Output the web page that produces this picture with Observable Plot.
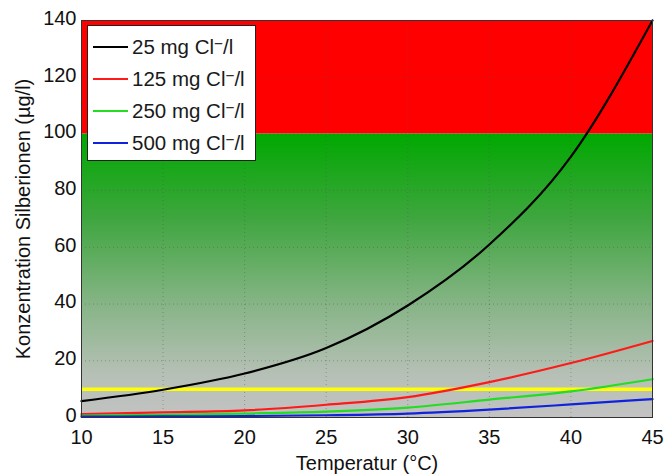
<!DOCTYPE html>
<html><head><meta charset="utf-8">
<script src="https://cdn.jsdelivr.net/npm/d3@7"></script>
<script src="https://cdn.jsdelivr.net/npm/@observablehq/plot@0.6"></script>
<style>
body{margin:0;background:#fff;font-family:"Liberation Sans",Arial,sans-serif;}
#wrap{position:relative;width:666px;height:475px;}
#legend{position:absolute;left:87px;top:25px;width:169px;height:136px;background:#fff;border:1px solid #222;box-sizing:border-box;padding-top:5px;}
.item{display:flex;align-items:center;height:32px;font-size:20.5px;color:#1a1a1a;white-space:nowrap;}
.item svg{margin-left:5px;margin-right:4px;flex:none;}
.item sup{font-size:0.75em;vertical-align:0.35em;line-height:0;}
</style></head><body>
<div id="wrap"><div id="chart"></div><div id="legend"></div></div>
<script>
const temps = [10, 15, 20, 25, 30, 35, 40, 45];
const cl25  = [5.8, 9.8, 15.5, 24.5, 39.5, 61, 92, 140];
const cl125 = [1.2, 1.8, 2.5, 4.5, 7.2, 12.5, 19.2, 27];
const cl250 = [0.7, 0.9, 1.4, 2.1, 3.5, 6.3, 9.2, 13.5];
const cl500 = [0.3, 0.4, 0.5, 0.8, 1.4, 2.8, 4.6, 6.5];
const seriesNames = ["25 mg Cl\u207B/l", "125 mg Cl\u207B/l", "250 mg Cl\u207B/l", "500 mg Cl\u207B/l"];
const seriesColors = ["#000000", "#ff1a1a", "#22dd22", "#1122dd"];
const seriesValues = [cl25, cl125, cl250, cl500];
const limitLow = 10;   // yellow line
const limitHigh = 100; // red zone lower bound
const xTicks = [10, 15, 20, 25, 30, 35, 40, 45];
const yTicks = [0, 20, 40, 60, 80, 100, 120, 140];

const rows = [];
seriesValues.forEach((vals, i) => temps.forEach((t, j) => rows.push({t, v: vals[j], s: seriesNames[i]})));

const defsMark = () => {
  const defs = d3.create("svg:defs");
  const g = defs.append("linearGradient").attr("id", "bgGrad").attr("x1", 0).attr("y1", 0).attr("x2", 0).attr("y2", 1);
  g.append("stop").attr("offset", "0%").attr("stop-color", "#00a800");
  g.append("stop").attr("offset", "30%").attr("stop-color", "#3fa63f");
  g.append("stop").attr("offset", "60%").attr("stop-color", "#86b486");
  g.append("stop").attr("offset", "85%").attr("stop-color", "#b6c0b6");
  g.append("stop").attr("offset", "100%").attr("stop-color", "#c2c2c2");
  return defs.node();
};

const chart = Plot.plot({
  width: 666, height: 475,
  marginLeft: 81, marginRight: 14, marginTop: 20, marginBottom: 58,
  style: {fontFamily: "Liberation Sans, Arial, sans-serif", fontSize: "20px", color: "#111", background: "#fff"},
  x: {domain: [10, 45], ticks: xTicks},
  y: {domain: [0, 140], ticks: yTicks},
  color: {domain: seriesNames, range: seriesColors},
  marks: [
    defsMark,
    Plot.rect([{}], {x1: xTicks[0], x2: xTicks[xTicks.length - 1], y1: 0, y2: limitHigh, fill: "url(#bgGrad)"}),
    Plot.rect([{}], {x1: xTicks[0], x2: xTicks[xTicks.length - 1], y1: limitHigh, y2: yTicks[yTicks.length - 1], fill: "#ff0000"}),
    Plot.gridX(xTicks, {stroke: "#555", strokeOpacity: 0.45, strokeDasharray: "1,3"}),
    Plot.gridY(yTicks, {stroke: "#555", strokeOpacity: 0.45, strokeDasharray: "1,3"}),
    Plot.ruleY([limitLow], {stroke: "#ffff00", strokeWidth: 3.5}),
    Plot.line(rows, {x: "t", y: "v", z: "s", stroke: "s", strokeWidth: 2.2, curve: "monotone-x"}),
    Plot.frame({stroke: "#333"}),
    Plot.axisX(xTicks, {tickSize: 0, tickPadding: 12, label: "Temperatur (°C)", labelAnchor: "center", labelArrow: "none", labelOffset: 52, fontSize: 20}),
    Plot.axisY(yTicks, {tickSize: 0, tickPadding: 5, dy: -2, label: "Konzentration Silberionen (µg/l)", labelAnchor: "center", labelArrow: "none", labelOffset: 66, fontSize: 20})
  ]
});
document.getElementById("chart").appendChild(chart);

const legend = document.getElementById("legend");
seriesNames.forEach((n, i) => {
  const d = document.createElement("div");
  d.className = "item";
  const base = n.replace("\u207B/l", "");
  d.innerHTML = `<svg width="35" height="6"><line x1="0" y1="3" x2="35" y2="3" stroke="${seriesColors[i]}" stroke-width="2.2"/></svg><span>${base}<sup>\u2212</sup>/l</span>`;
  legend.appendChild(d);
});
</script>
</body></html>
